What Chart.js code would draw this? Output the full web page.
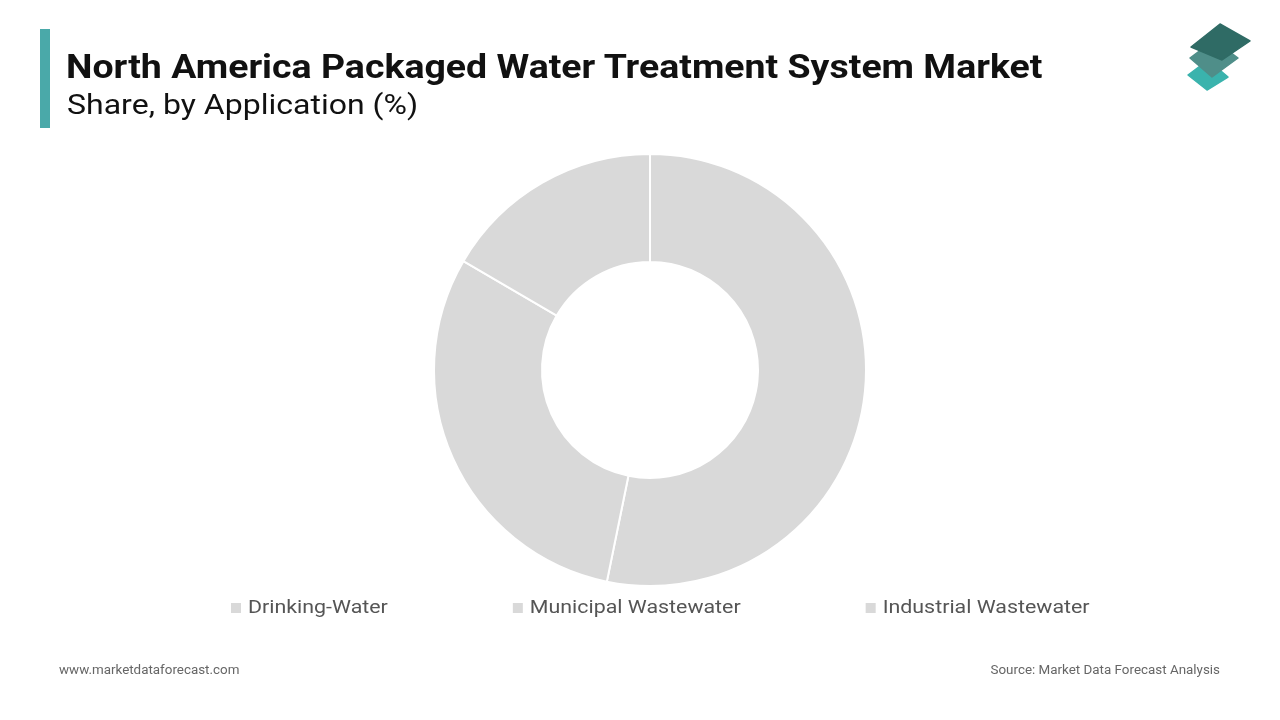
<!DOCTYPE html>
<html>
<head>
<meta charset="utf-8">
<script src="https://cdn.jsdelivr.net/npm/chart.js@4.4.1/dist/chart.umd.min.js"></script>
<style>
  html, body { margin: 0; padding: 0; background: #fff; }
  body { width: 1280px; height: 720px; position: relative; overflow: hidden; font-family: Roboto, "Noto Sans", sans-serif; }
  #chart_canvas { position: absolute; left: 0; top: 0; }
  .accent { position: absolute; left: 40px; top: 29px; width: 10px; height: 99px; background: #4aa9a9; }
  .title { position: absolute; left: 66px; top: 47px; font-size: 33px; font-weight: 700; color: #111; white-space: nowrap; transform: scaleX(1.135); transform-origin: left top; }
  .subtitle { position: absolute; left: 67px; top: 88px; font-size: 28px; color: #111; white-space: nowrap; transform: scaleX(1.144); transform-origin: left top; }
  .foot { position: absolute; top: 662px; font-size: 13.4px; color: #666; white-space: nowrap; }
  .logo { position: absolute; left: 1184px; top: 22px; }
</style>
</head>
<body>
<canvas id="chart_canvas" width="1280" height="720"></canvas>
<div class="accent"></div>
<div class="title">North America Packaged Water Treatment System Market</div>
<div class="subtitle">Share, by Application (%)</div>
<svg class="logo" width="72" height="72" viewBox="0 0 72 72">
  <polygon points="24,38 44,55 23,68 4,53" fill="#3ab3ad" stroke="#3ab3ad" stroke-width="1.5" stroke-linejoin="round"/>
  <polygon points="30,18 54,36 28,55 6,36" fill="#4f8e89" stroke="#4f8e89" stroke-width="1.5" stroke-linejoin="round"/>
  <polygon points="36,2 66,19 38,38 7,25" fill="#2f6b65" stroke="#2f6b65" stroke-width="1.5" stroke-linejoin="round"/>
</svg>
<div class="foot" style="left:59px;">www.marketdataforecast.com</div>
<div class="foot" style="right:60px;">Source: Market Data Forecast Analysis</div>
<script>
const categories = ["Drinking-Water", "Municipal Wastewater", "Industrial Wastewater"];
const share_values = [53.2, 30.2, 16.6];
const slice_colors = ["#d9d9d9", "#d9d9d9", "#d9d9d9"];

// legend drawn on the canvas, items spaced wide like the original
const wide_legend = {
  id: "wide_legend",
  afterDraw(chart) {
    const ctx = chart.ctx;
    const stretch = 1.125;
    ctx.save();
    ctx.font = "19px Roboto";
    ctx.textBaseline = "middle";
    let x = 231;
    const y = 608;
    categories.forEach((name, i) => {
      ctx.fillStyle = slice_colors[i];
      ctx.fillRect(x, y - 5, 10, 10);
      ctx.fillStyle = "#555555";
      ctx.save();
      ctx.translate(x + 17, y);
      ctx.scale(stretch, 1);
      ctx.fillText(name, 0, 0);
      ctx.restore();
      x += 17 + ctx.measureText(name).width * stretch + 125;
    });
    ctx.restore();
  }
};

new Chart(document.getElementById("chart_canvas"), {
  type: "doughnut",
  data: {
    labels: categories,
    datasets: [{
      data: share_values,
      backgroundColor: slice_colors,
      borderColor: "#ffffff",
      borderWidth: 2
    }]
  },
  options: {
    responsive: false,
    animation: false,
    cutout: "50%",
    events: [],
    layout: { padding: { left: 433, right: 413, top: 153, bottom: 133 } },
    plugins: {
      legend: { display: false },
      tooltip: { enabled: false }
    }
  },
  plugins: [wide_legend]
});
</script>
</body>
</html>
